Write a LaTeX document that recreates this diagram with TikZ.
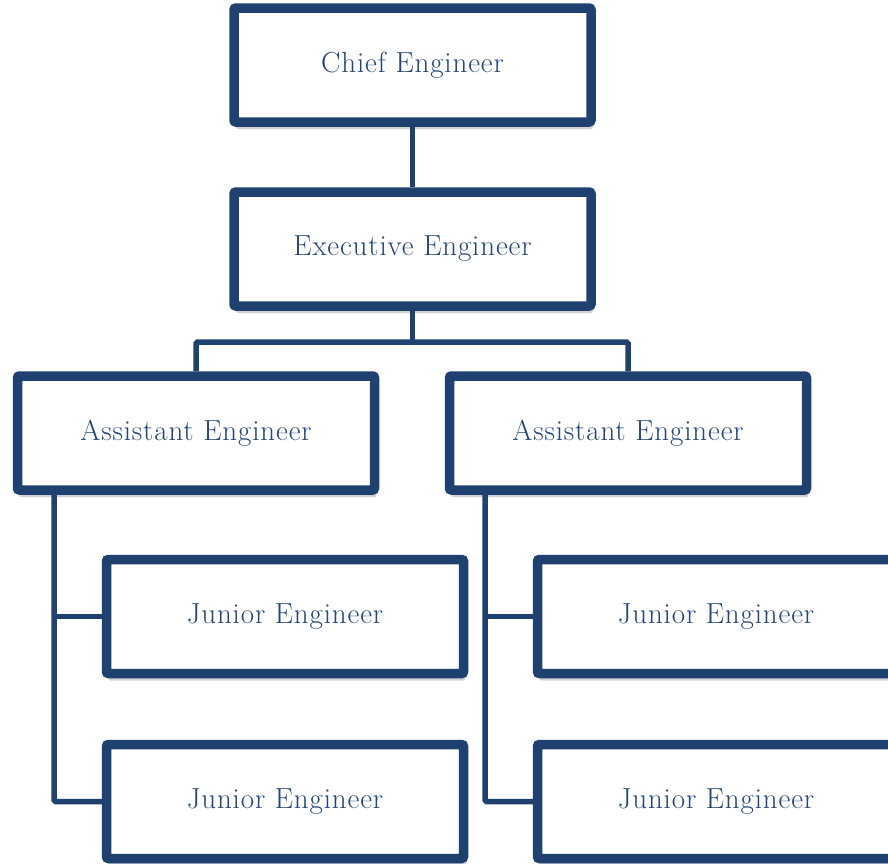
\documentclass[tikz,border=0pt]{standalone}
\usepackage{fontspec}
\newfontfamily\boxfont{Latin Modern Roman}[LetterSpace=3]
\usetikzlibrary{shadows}
\definecolor{navy}{HTML}{1F4170}
\definecolor{txtblue}{HTML}{22457A}
\tikzset{
  orgbox/.style={draw=navy, line width=9.5pt, fill=white, rounded corners=2pt,
    minimum width=357pt, minimum height=114pt, inner sep=0pt,
    font=\boxfont\fontsize{29}{32}\selectfont, text=txtblue,
    drop shadow={shadow xshift=2pt, shadow yshift=-7pt, opacity=0.18, fill=black}},
  link/.style={draw=navy, line width=5.5pt, rounded corners=1.5pt}
}
\begin{document}
\begin{tikzpicture}[x=1pt, y=-1pt]
\useasboundingbox (0,0) rectangle (888,863);
\begin{scope}
\clip (0,0) rectangle (888,863);
\coordinate (hl) at (196,342);
\coordinate (hr) at (628,342);
\coordinate (hm) at (412.5,342);
\node[orgbox] (chief) at (412.5,65) {Chief Engineer};
\node[orgbox] (exec) at (412.5,249) {Executive Engineer};
\node[orgbox] (asl) at (196,433) {Assistant Engineer};
\node[orgbox] (asr) at (628,433) {Assistant Engineer};
\node[orgbox] (jl1) at (285,616.5) {Junior Engineer};
\node[orgbox] (jl2) at (285,801.5) {Junior Engineer};
\node[orgbox] (jr1) at (716,616.5) {Junior Engineer};
\node[orgbox] (jr2) at (716,801.5) {Junior Engineer};
\coordinate (vl) at (54,0);
\coordinate (vr) at (485,0);
\begin{scope}[link]
\draw (chief.south) -- (exec.north);
\draw (exec.south) -- (hm);
\draw (asl.north) -- (hl) -- (hr) -- (asr.north);
\draw (vl |- asl.south) -- (vl |- jl2.west) -- (jl2.west);
\draw (vl |- jl1.west) -- (jl1.west);
\draw (vr |- asr.south) -- (vr |- jr2.west) -- (jr2.west);
\draw (vr |- jr1.west) -- (jr1.west);
\end{scope}
\end{scope}
\end{tikzpicture}
\end{document}
